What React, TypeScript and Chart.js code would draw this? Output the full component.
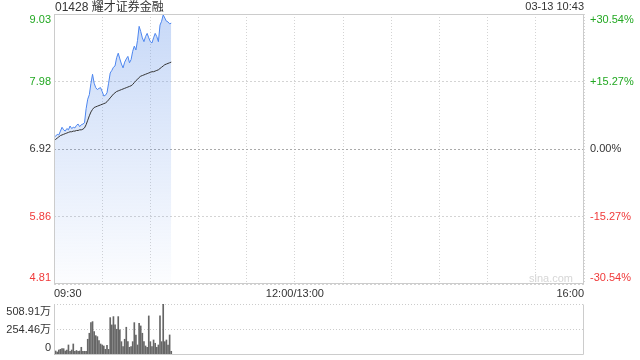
import React, { useEffect, useRef } from "react";
import { Chart, registerables } from "chart.js";

Chart.register(...registerables);

const FONT = '"Liberation Sans", Arial, "Noto Sans CJK SC", sans-serif';

const title = "01428 耀才证券金融";
const stamp = "03-13 10:43";
const watermark = "sina.com";
const basePrice = 6.92;
const maxPct = 30.54;
const totalMinutes = 330;
const xTickPositions = [0, 150, 330];
const xTickLabels = ["09:30", "12:00/13:00", "16:00"];

const price = [
  7.10, 7.12, 7.15, 7.14, 7.20, 7.26, 7.22, 7.20, 7.24, 7.22,
  7.28, 7.24, 7.26, 7.25, 7.29, 7.31, 7.27, 7.30, 7.31, 7.33,
  7.55, 7.70, 7.77, 7.95, 8.09, 7.95, 7.88, 7.85, 7.87, 7.88,
  7.82, 7.75, 7.76, 7.80, 7.95, 8.11, 8.15, 8.20, 8.22, 8.35,
  8.42, 8.33, 8.25, 8.19, 8.28, 8.33, 8.37, 8.27, 8.32, 8.45,
  8.53, 8.47, 8.62, 8.84, 8.76, 8.66, 8.60, 8.68, 8.73, 8.66,
  8.60, 8.58, 8.66, 8.73, 8.68, 8.60, 8.86, 8.92, 9.02, 8.97,
  8.92, 8.91, 8.88, 8.89,
];

const avgPrice = [
  7.05, 7.07, 7.09, 7.11, 7.13, 7.14, 7.15, 7.16, 7.17, 7.18,
  7.19, 7.19, 7.20, 7.20, 7.21, 7.21, 7.22, 7.22, 7.23, 7.25,
  7.30, 7.37, 7.44, 7.50, 7.54, 7.57, 7.58, 7.59, 7.60, 7.61,
  7.62, 7.63, 7.64, 7.66, 7.69, 7.72, 7.75, 7.78, 7.80, 7.82,
  7.83, 7.84, 7.85, 7.86, 7.87, 7.88, 7.89, 7.90, 7.91, 7.93,
  7.96, 7.99, 8.01, 8.04, 8.06, 8.07, 8.08, 8.09, 8.10, 8.11,
  8.12, 8.13, 8.13, 8.14, 8.15, 8.16, 8.18, 8.20, 8.22, 8.24,
  8.25, 8.26, 8.27, 8.28,
];

// volume in 万
const volume = [
  100, 40, 30, 50, 57, 63, 63, 40, 50, 100,
  37, 50, 110, 37, 45, 37, 40, 77, 37, 37,
  37, 157, 217, 323, 333, 233, 193, 183, 143, 110,
  100, 90, 57, 97, 56, 373, 300, 383, 300, 257,
  383, 250, 133, 83, 157, 277, 133, 77, 83, 133,
  323, 200, 100, 317, 290, 217, 133, 90, 77, 390,
  133, 83, 150, 117, 77, 100, 390, 133, 507, 133,
  150, 100, 200, 37,
];
const volumeMax = 508.91;
const volumeTickValues = [0, 254.455, 508.91];
const volumeTickLabels = ["0", "254.46万", "508.91万"];

const GREEN = "#22a822";
const RED = "#f03a3a";
const DARK = "#333333";

function PriceChart() {
  const ref = useRef<HTMLCanvasElement | null>(null);
  useEffect(() => {
    const range = (basePrice * maxPct) / 100;
    const yMin = basePrice - range;
    const yMax = basePrice + range;
    const yTicks = [yMin, basePrice - range / 2, basePrice, basePrice + range / 2, yMax];

    const labelPlugin = {
      id: "priceLabels",
      afterDraw(chart: any) {
        const ctx = chart.ctx;
        const area = chart.chartArea;
        const ys = chart.scales.y;
        ctx.save();
        // frame
        ctx.strokeStyle = "#cccccc";
        ctx.lineWidth = 1;
        ctx.setLineDash([]);
        ctx.strokeRect(Math.round(area.left) + 0.5, Math.round(area.top) + 0.5,
          Math.round(area.right - area.left) - 1, Math.round(area.bottom - area.top) - 1);
        ctx.textBaseline = "middle";
        ctx.font = `11px ${FONT}`;
        yTicks.forEach((v, i) => {
          let y = ys.getPixelForValue(v);
          if (i === yTicks.length - 1) y += 6;
          if (i === 0) y -= 6;
          const pct = ((v - basePrice) / basePrice) * 100;
          const color = Math.abs(pct) < 0.001 ? DARK : pct > 0 ? GREEN : RED;
          ctx.fillStyle = color;
          ctx.textAlign = "right";
          ctx.fillText(v.toFixed(2), area.left - 3, y);
          ctx.textAlign = "left";
          const pctText = (pct > 0.001 ? "+" : "") + (Math.abs(pct) < 0.001 ? "0.00" : pct.toFixed(2)) + "%";
          ctx.fillText(pctText, area.right + 6, y);
        });
        ctx.fillStyle = DARK;
        ctx.font = `12px ${FONT}`;
        ctx.textAlign = "left";
        ctx.fillText(title, area.left + 1, 8);
        ctx.font = `11px ${FONT}`;
        ctx.textAlign = "right";
        ctx.fillText(stamp, area.right, 7);
        ctx.fillStyle = "#d6d6d6";
        ctx.font = `11px ${FONT}`;
        ctx.fillText(watermark, area.right - 11, area.bottom - 5);
        ctx.restore();
      },
    };

    const chart = new Chart(ref.current as HTMLCanvasElement, {
      type: "line",
      data: {
        datasets: [
          {
            data: avgPrice.map((v, i) => ({ x: i, y: v })),
            borderColor: "#333333",
            borderWidth: 1,
            pointRadius: 0,
            fill: false,
            tension: 0,
          },
          {
            data: price.map((v, i) => ({ x: i, y: v })),
            borderColor: "#4d86ef",
            borderWidth: 1,
            pointRadius: 0,
            tension: 0,
            fill: "start",
            backgroundColor: (c: any) => {
              const area = c.chart.chartArea;
              if (!area) return "rgba(120,160,235,0.3)";
              const g = c.chart.ctx.createLinearGradient(0, area.top, 0, area.bottom);
              g.addColorStop(0, "rgba(110,155,235,0.38)");
              g.addColorStop(1, "rgba(110,155,235,0.02)");
              return g;
            },
          },
        ],
      },
      options: {
        responsive: false,
        animation: false,
        events: [],
        layout: { padding: { top: 14, left: 0, right: 0, bottom: 0 } },
        plugins: { legend: { display: false }, tooltip: { enabled: false } },
        scales: {
          x: {
            type: "linear",
            min: 0,
            max: totalMinutes,
            afterBuildTicks: (s: any) => {
              const t = [];
              for (let m = 0; m <= totalMinutes; m += 30) t.push({ value: m });
              s.ticks = t;
            },
            afterFit: (s: any) => {
              s.height = 16;
            },
            ticks: {
              autoSkip: false,
              maxRotation: 0,
              align: "inner",
              padding: 3,
              color: DARK,
              font: { family: FONT, size: 11 },
              callback: (v: any) => {
                const i = xTickPositions.indexOf(Number(v));
                return i >= 0 ? xTickLabels[i] : "";
              },
            },
            grid: { color: "#d4d4d4", drawTicks: false, lineWidth: 1 },
            border: { display: false, dash: [1, 2] },
          },
          y: {
            position: "left",
            min: yMin,
            max: yMax,
            afterBuildTicks: (s: any) => {
              s.ticks = yTicks.map((v) => ({ value: v }));
            },
            afterFit: (s: any) => {
              s.width = 54;
            },
            ticks: { display: false },
            grid: {
              drawTicks: false,
              color: (c: any) => (c.tick && Math.abs(c.tick.value - basePrice) < 1e-6 ? "#aaaaaa" : "#d4d4d4"),
            },
            border: { display: false, dash: [2, 2] },
          },
          y2: {
            position: "right",
            min: yMin,
            max: yMax,
            afterFit: (s: any) => {
              s.width = 56;
            },
            ticks: { display: false },
            grid: { display: false },
            border: { display: false },
          },
        },
      },
      plugins: [labelPlugin],
    } as any);
    return () => chart.destroy();
  }, []);
  return (
    <canvas
      ref={ref}
      width={640}
      height={300}
      style={{ position: "absolute", left: 0, top: 0, width: 640, height: 300 }}
    />
  );
}

function VolumeChart() {
  const ref = useRef<HTMLCanvasElement | null>(null);
  useEffect(() => {
    const framePlugin = {
      id: "volFrame",
      afterDraw(chart: any) {
        const ctx = chart.ctx;
        const area = chart.chartArea;
        const ys = chart.scales.y;
        ctx.save();
        ctx.strokeStyle = "#cccccc";
        ctx.lineWidth = 1;
        ctx.setLineDash([]);
        const l = Math.round(area.left) + 0.5;
        const r = Math.round(area.right) - 0.5;
        const t = Math.round(area.top) + 0.5;
        const b = Math.round(area.bottom) - 0.5;
        ctx.beginPath();
        ctx.moveTo(l, t);
        ctx.lineTo(l, b);
        ctx.lineTo(r, b);
        ctx.lineTo(r, t);
        ctx.stroke();
        ctx.font = `11px ${FONT}`;
        ctx.textAlign = "right";
        ctx.textBaseline = "middle";
        ctx.fillStyle = DARK;
        volumeTickValues.forEach((v, i) => {
          let y = ys.getPixelForValue(v);
          if (i === 0) y -= 7;
          if (i === volumeTickValues.length - 1) y += 8;
          ctx.fillText(volumeTickLabels[i], area.left - 3, y);
        });
        ctx.restore();
      },
    };
    const chart = new Chart(ref.current as HTMLCanvasElement, {
      type: "bar",
      data: {
        datasets: [
          {
            data: volume.map((v, i) => ({ x: i, y: v })),
            backgroundColor: "#666666",
            barThickness: 1,
            borderWidth: 0,
          },
        ],
      },
      options: {
        responsive: false,
        animation: false,
        events: [],
        layout: { padding: { top: 8, left: 0, right: 0, bottom: 5 } },
        plugins: { legend: { display: false }, tooltip: { enabled: false } },
        scales: {
          x: {
            type: "linear",
            min: 0,
            max: totalMinutes,
            display: false,
            offset: false,
          },
          y: {
            position: "left",
            min: 0,
            max: volumeMax,
            afterBuildTicks: (s: any) => {
              s.ticks = volumeTickValues.map((v) => ({ value: v }));
            },
            afterFit: (s: any) => {
              s.width = 54;
            },
            ticks: { display: false },
            grid: {
              drawTicks: false,
              color: (c: any) => (c.tick && c.tick.value === 0 ? "rgba(0,0,0,0)" : "#cccccc"),
            },
            border: { display: false, dash: [1, 2] },
          },
          y2: {
            position: "right",
            min: 0,
            max: volumeMax,
            afterFit: (s: any) => {
              s.width = 56;
            },
            ticks: { display: false },
            grid: { display: false },
            border: { display: false },
          },
        },
      },
      plugins: [framePlugin],
    } as any);
    return () => chart.destroy();
  }, []);
  return (
    <canvas
      ref={ref}
      width={640}
      height={64}
      style={{ position: "absolute", left: 0, top: 296, width: 640, height: 64 }}
    />
  );
}

export default function App() {
  return (
    <div style={{ position: "fixed", left: 0, top: 0, width: 640, height: 360, background: "#ffffff", fontFamily: FONT }}>
      <PriceChart />
      <VolumeChart />
    </div>
  );
}
